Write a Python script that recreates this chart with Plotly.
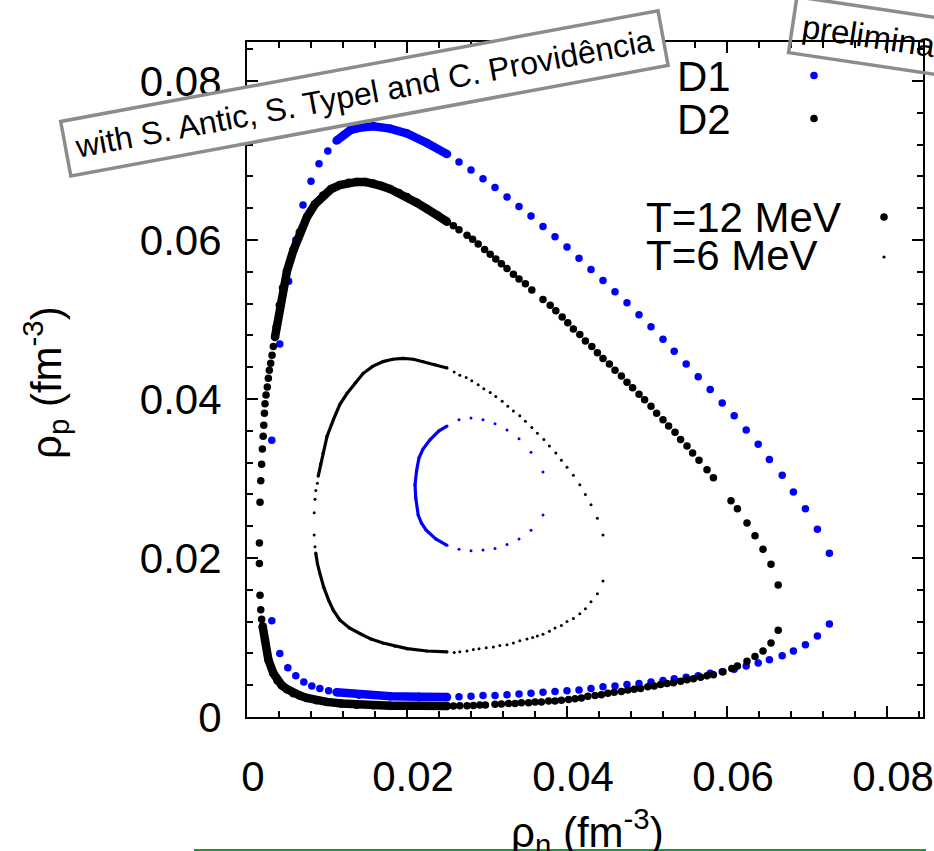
import plotly.graph_objects as go

# ---------------- data (rho_n, rho_p in fm^-3) ----------------
# D1, T = 12 MeV (blue, large)
d1_t12_upper_left_x = [0.0031, 0.0041, 0.0052, 0.0061, 0.0070, 0.0080, 0.0090, 0.0101]
d1_t12_upper_left_y = [0.0348, 0.0469, 0.0548, 0.0600, 0.0644, 0.0674, 0.0696, 0.0712]
d1_t12_upper_dense_x = [0.0112, 0.0121, 0.0129, 0.0140, 0.0158, 0.0179, 0.0200, 0.0225, 0.0250]
d1_t12_upper_dense_y = [0.0725, 0.0732, 0.0738, 0.0741, 0.0743, 0.0740, 0.0734, 0.0722, 0.0708]
d1_t12_right_x = [0.0265, 0.0280, 0.0295, 0.0310, 0.0325, 0.0340, 0.0355, 0.0370, 0.0385, 0.0400,
                  0.0415, 0.0430, 0.0445, 0.0460, 0.0475, 0.0490, 0.0505, 0.0520, 0.0534, 0.0549,
                  0.0564, 0.0579, 0.0594, 0.0609, 0.0624, 0.0639, 0.0653, 0.0669, 0.0683, 0.0698,
                  0.0713, 0.0728]
d1_t12_upper_right_y = [0.0698, 0.0688, 0.0677, 0.0666, 0.0654, 0.0642, 0.0630, 0.0617, 0.0604, 0.0591,
                        0.0577, 0.0563, 0.0549, 0.0535, 0.0521, 0.0506, 0.0491, 0.0475, 0.0460, 0.0444,
                        0.0428, 0.0412, 0.0395, 0.0379, 0.0361, 0.0343, 0.0324, 0.0304, 0.0283, 0.0262,
                        0.0236, 0.0206]
d1_t12_lower_left_x = [0.0031, 0.0041, 0.0051, 0.0061, 0.0071, 0.0081, 0.0091, 0.0102]
d1_t12_lower_left_y = [0.0121, 0.0080, 0.0062, 0.0052, 0.0044, 0.0039, 0.0036, 0.0033]
d1_t12_lower_dense_x = [0.0112, 0.0140, 0.0179, 0.0215, 0.0250]
d1_t12_lower_dense_y = [0.0031, 0.0028, 0.0026, 0.00255, 0.0025]
d1_t12_lower_right_y = [0.00255, 0.0026, 0.0027, 0.0027, 0.0028, 0.0029, 0.0030, 0.0031, 0.0032, 0.0033,
                        0.0034, 0.0036, 0.0038, 0.0039, 0.0041, 0.0042, 0.0044, 0.0046, 0.0048, 0.0050,
                        0.0052, 0.0055, 0.0057, 0.0060, 0.0064, 0.0068, 0.0072, 0.0077, 0.0083, 0.0091,
                        0.0102, 0.0117]

# D2, T = 12 MeV (black, large)
d2_t12_left_x = [0.00350, 0.00329, 0.00313, 0.00296, 0.00279, 0.00267, 0.00254, 0.00238, 0.00225, 0.00218,
                 0.00210, 0.00202, 0.00192, 0.00183, 0.00172, 0.00163, 0.00155, 0.00155, 0.00163, 0.00172,
                 0.00183, 0.00196]
d2_t12_left_y = [0.0478, 0.0466, 0.0455, 0.0445, 0.0436, 0.0426, 0.0415, 0.0405, 0.0394, 0.0382,
                 0.0367, 0.0353, 0.0337, 0.0318, 0.0297, 0.0270, 0.0219, 0.0193, 0.0153, 0.0135,
                 0.0123, 0.0114]
d2_t12_upper_dense_x = [0.0035, 0.0037, 0.0041, 0.0045, 0.0050, 0.0058, 0.0066, 0.0075, 0.0085, 0.0095,
                        0.0105, 0.0116, 0.0127, 0.0137, 0.0148, 0.0158, 0.0168, 0.0179, 0.0190, 0.0200,
                        0.0212, 0.0225, 0.0238, 0.0250]
d2_t12_upper_dense_y = [0.0478, 0.0491, 0.0518, 0.0540, 0.0561, 0.0587, 0.0610, 0.0629, 0.0645, 0.0656,
                        0.0664, 0.0669, 0.0672, 0.0673, 0.0673, 0.0671, 0.0668, 0.0664, 0.0659, 0.0654,
                        0.0647, 0.0639, 0.0631, 0.0623]
d2_t12_lower_dense_x = [0.00196, 0.00225, 0.00267, 0.00329, 0.0038, 0.00433, 0.0050, 0.00579, 0.0066, 0.00746,
                        0.0087, 0.00996, 0.0118, 0.0137, 0.0158, 0.0179, 0.0215, 0.0250]
d2_t12_lower_dense_y = [0.0114, 0.0097, 0.0072, 0.0055, 0.0046, 0.0040, 0.0035, 0.0030, 0.0027, 0.0024,
                        0.0021, 0.0019, 0.0017, 0.00155, 0.00148, 0.00142, 0.0014, 0.00138]
d2_t12_upper_right_x = [0.0258, 0.0265, 0.0275, 0.0282, 0.0289, 0.0297, 0.0304, 0.0311, 0.0318, 0.0325,
                        0.0333, 0.0340, 0.0348, 0.0356,
                        0.0370, 0.0379, 0.0386, 0.0394, 0.0401, 0.0408, 0.0416, 0.0423, 0.0431, 0.0438,
                        0.0445, 0.0453, 0.0460, 0.0468, 0.0475, 0.0482, 0.0490, 0.0497, 0.0505,
                        0.0512, 0.0520, 0.0527, 0.0535, 0.0542, 0.0550, 0.0557, 0.0565, 0.0575, 0.0583,
                        0.0605, 0.0613, 0.0625, 0.0635, 0.0645, 0.0655, 0.0664]
d2_t12_upper_right_y = [0.0618, 0.0613, 0.0606, 0.0601, 0.0595, 0.0588, 0.0582, 0.0576, 0.0570, 0.0564,
                        0.0557, 0.0551, 0.0545, 0.0537,
                        0.0525, 0.0518, 0.0511, 0.0503, 0.0496, 0.0488, 0.0481, 0.0473, 0.0466, 0.0458,
                        0.0451, 0.0444, 0.0436, 0.0429, 0.0421, 0.0414, 0.0406, 0.0399, 0.0391,
                        0.0382, 0.0374, 0.0366, 0.0358, 0.0349, 0.0341, 0.0332, 0.0323, 0.0311, 0.0301,
                        0.0272, 0.0262, 0.0244, 0.0228, 0.0211, 0.0192, 0.0166]
d2_t12_lower_right_x = [0.0258, 0.0266, 0.0275, 0.0283, 0.0291, 0.0298,
                        0.0310, 0.0318, 0.0327, 0.0335, 0.0343, 0.0352, 0.0360, 0.0368, 0.0377, 0.0385,
                        0.0393, 0.0402, 0.0410, 0.0418, 0.0426, 0.0435, 0.0443, 0.0451, 0.0459, 0.0468,
                        0.0476, 0.0484, 0.0492, 0.0501, 0.0509, 0.0517, 0.0525, 0.0533, 0.0542, 0.0550,
                        0.0558, 0.0567, 0.0575, 0.0583,
                        0.0595, 0.0606, 0.0613, 0.0625, 0.0635, 0.0645, 0.0655, 0.0664]
d2_t12_lower_right_y = [0.00138, 0.0014, 0.0014, 0.00145, 0.0015, 0.0015,
                        0.0016, 0.00165, 0.0017, 0.0017, 0.0018, 0.0018, 0.0019, 0.0019, 0.0020, 0.0020,
                        0.0021, 0.0022, 0.0023, 0.0024, 0.0026, 0.0027, 0.0028, 0.0030, 0.0031, 0.0032,
                        0.0034, 0.0035, 0.0036, 0.0038, 0.0039, 0.0041, 0.0042, 0.0043, 0.0045, 0.0047,
                        0.0048, 0.0050, 0.0052, 0.0053,
                        0.0057, 0.0061, 0.0064, 0.0070, 0.0076, 0.0083, 0.0093, 0.0109]

# D1, T = 6 MeV (blue, small)
d1_t6_dense_x = [0.0250, 0.0240, 0.0229, 0.0220, 0.0215, 0.0212, 0.0210, 0.0211, 0.0214, 0.0218, 0.0224, 0.0236, 0.0250]
d1_t6_dense_y = [0.0366, 0.0360, 0.0349, 0.0337, 0.0326, 0.0310, 0.0292, 0.0275, 0.0254, 0.0244, 0.0235, 0.0224, 0.0216]
d1_t6_upper_x = [0.0265, 0.0280, 0.0295, 0.0310, 0.0325, 0.0340, 0.0355, 0.0370]
d1_t6_upper_y = [0.0374, 0.0376, 0.0374, 0.0369, 0.0361, 0.0350, 0.0333, 0.0308]
d1_t6_lower_x = [0.0370, 0.0355, 0.0340, 0.0325, 0.0310, 0.0295, 0.0280, 0.0265]
d1_t6_lower_y = [0.0254, 0.0235, 0.0224, 0.0217, 0.0212, 0.0210, 0.0209, 0.0211]

# D2, T = 6 MeV (black, small)
d2_t6_upper_dense_x = [0.0089, 0.0092, 0.0095, 0.0100, 0.0108, 0.0116, 0.0125, 0.0135, 0.0145, 0.0157,
                       0.0170, 0.0182, 0.0195, 0.0208, 0.0220, 0.0235, 0.0250]
d2_t6_upper_dense_y = [0.0303, 0.0318, 0.0332, 0.0353, 0.0374, 0.0393, 0.0407, 0.0420, 0.0432, 0.0441,
                       0.0447, 0.0450, 0.0451, 0.0450, 0.0447, 0.0443, 0.0439]
d2_t6_left_x = [0.0088, 0.0086, 0.0085, 0.0084, 0.0084, 0.0085]
d2_t6_left_y = [0.0294, 0.0285, 0.0274, 0.0257, 0.0229, 0.0214]
d2_t6_lower_dense_x = [0.0086, 0.0088, 0.0091, 0.0096, 0.0102, 0.0108, 0.0116, 0.0128, 0.0141, 0.0155,
                       0.0170, 0.0185, 0.0200, 0.0225, 0.0250]
d2_t6_lower_dense_y = [0.0206, 0.0193, 0.0181, 0.0163, 0.0147, 0.0134, 0.0122, 0.0112, 0.0105, 0.0098,
                       0.0093, 0.0089, 0.0086, 0.0083, 0.0082]
d2_t6_upper_x = [0.0259, 0.0266, 0.0274, 0.0281, 0.0289, 0.0296, 0.0304, 0.0311, 0.0319, 0.0326,
                 0.0333, 0.0341, 0.0348, 0.0356, 0.0363, 0.0371, 0.0378, 0.0386, 0.0393, 0.0400,
                 0.0408, 0.0416, 0.0423, 0.0430, 0.0438, 0.0445]
d2_t6_upper_y = [0.0434, 0.0430, 0.0427, 0.0423, 0.0418, 0.0413, 0.0408, 0.0403, 0.0397, 0.0391,
                 0.0385, 0.0379, 0.0372, 0.0364, 0.0357, 0.0349, 0.0341, 0.0332, 0.0323, 0.0314,
                 0.0304, 0.0292, 0.0280, 0.0267, 0.0250, 0.0229]
d2_t6_lower_x = [0.0259, 0.0266, 0.0275, 0.0283, 0.0290, 0.0299, 0.0308, 0.0316, 0.0325, 0.0333,
                 0.0341, 0.0350, 0.0357, 0.0363, 0.0370, 0.0378, 0.0385, 0.0393, 0.0400, 0.0408,
                 0.0416, 0.0423, 0.0430, 0.0438, 0.0445]
d2_t6_lower_y = [0.0081, 0.0082, 0.0083, 0.0085, 0.0086, 0.0087, 0.0088, 0.0090, 0.0091, 0.0093,
                 0.0096, 0.0098, 0.0100, 0.0102, 0.0104, 0.0108, 0.0112, 0.0115, 0.0120, 0.0124,
                 0.0130, 0.0136, 0.0145, 0.0155, 0.0171]

x_tick_values = [0, 0.02, 0.04, 0.06, 0.08]
y_tick_values = [0, 0.02, 0.04, 0.06, 0.08]
tick_labels = ["0", "0.02", "0.04", "0.06", "0.08"]

# ---------------- styling ----------------
BLUE = "#0000ff"
BLACK = "#000000"
BIG = 7.5
SMALL = 3.0
FONT = "Liberation Sans, Arial, Helvetica, sans-serif"

fig = go.Figure()


def dots(x, y, color, size):
    fig.add_trace(go.Scatter(x=x, y=y, mode="markers",
                             marker=dict(color=color, size=size, line=dict(width=0)),
                             hoverinfo="skip", showlegend=False))


def dense(x, y, color, width):
    fig.add_trace(go.Scatter(x=x, y=y, mode="lines+markers",
                             line=dict(color=color, width=width),
                             marker=dict(color=color, size=width, line=dict(width=0)),
                             hoverinfo="skip", showlegend=False))


# D1 T=12
dots(d1_t12_upper_left_x, d1_t12_upper_left_y, BLUE, BIG)
dense(d1_t12_upper_dense_x, d1_t12_upper_dense_y, BLUE, 8.5)
dots(d1_t12_right_x, d1_t12_upper_right_y, BLUE, BIG)
dots(d1_t12_lower_left_x, d1_t12_lower_left_y, BLUE, BIG)
dense(d1_t12_lower_dense_x, d1_t12_lower_dense_y, BLUE, 8.5)
dots(d1_t12_right_x, d1_t12_lower_right_y, BLUE, BIG)
# D2 T=12
dots(d2_t12_left_x, d2_t12_left_y, BLACK, BIG)
dense(d2_t12_upper_dense_x, d2_t12_upper_dense_y, BLACK, 8.5)
dense(d2_t12_lower_dense_x, d2_t12_lower_dense_y, BLACK, 8.5)
dots(d2_t12_upper_right_x, d2_t12_upper_right_y, BLACK, BIG)
dots(d2_t12_lower_right_x, d2_t12_lower_right_y, BLACK, BIG)
# D1 T=6
dense(d1_t6_dense_x, d1_t6_dense_y, BLUE, 3.2)
dots(d1_t6_upper_x, d1_t6_upper_y, BLUE, SMALL)
dots(d1_t6_lower_x, d1_t6_lower_y, BLUE, SMALL)
# D2 T=6
dense(d2_t6_upper_dense_x, d2_t6_upper_dense_y, BLACK, 3.2)
dots(d2_t6_left_x, d2_t6_left_y, BLACK, SMALL)
dense(d2_t6_lower_dense_x, d2_t6_lower_dense_y, BLACK, 3.2)
dots(d2_t6_upper_x, d2_t6_upper_y, BLACK, SMALL)
dots(d2_t6_lower_x, d2_t6_lower_y, BLACK, SMALL)

axis_common = dict(
    showline=True, linecolor="black", linewidth=2, mirror="allticks",
    ticks="inside", ticklen=11, tickwidth=1.5, tickcolor="black",
    showgrid=False, zeroline=False, automargin=False,
    tickfont=dict(family=FONT, size=42, color="black"),
    minor=dict(ticks="inside", ticklen=6, tickwidth=1.5, tickcolor="black", dtick=0.004, showgrid=False),
)

fig.update_xaxes(range=[0, 0.0845], tickmode="array", tickvals=x_tick_values, ticktext=tick_labels,
                 ticklabelstandoff=22, ticklabelshift=6, **axis_common)
fig.update_yaxes(range=[0, 0.0849], tickmode="array", tickvals=y_tick_values, ticktext=tick_labels,
                 ticklabelstandoff=15, **axis_common)

W, H = 934, 851
L, R, T, B = 247, 11, 42, 134
PW, PH = W - L - R, H - T - B


def px(xp):
    return (xp - L) / PW


def py(yp):
    return (H - B - yp) / PH


annotations = [
    # axis titles
    dict(text="ρ<sub>n</sub> (fm<sup>-3</sup>)", x=px(587), y=py(832), xref="paper", yref="paper",
         xanchor="center", yanchor="middle", showarrow=False,
         font=dict(family=FONT, size=42, color="black")),
    dict(text="ρ<sub>p</sub> (fm<sup>-3</sup>)", x=px(45), y=py(382), xref="paper", yref="paper",
         xanchor="center", yanchor="middle", showarrow=False, textangle=-90,
         font=dict(family=FONT, size=42, color="black")),
    # key text
    dict(text="D1", x=px(675), y=py(76), xref="paper", yref="paper", xanchor="left", yanchor="middle",
         showarrow=False, font=dict(family=FONT, size=42, color="black")),
    dict(text="D2", x=px(675), y=py(119), xref="paper", yref="paper", xanchor="left", yanchor="middle",
         showarrow=False, font=dict(family=FONT, size=42, color="black")),
    dict(text="T=12 MeV", x=px(644), y=py(217), xref="paper", yref="paper", xanchor="left", yanchor="middle",
         showarrow=False, font=dict(family=FONT, size=42, color="black")),
    dict(text="T=6 MeV", x=px(644), y=py(255), xref="paper", yref="paper", xanchor="left", yanchor="middle",
         showarrow=False, font=dict(family=FONT, size=42, color="black")),
    # stamps
    dict(text="with S. Antic, S. Typel and C. Providência", x=px(364), y=py(94), xref="paper", yref="paper",
         xanchor="center", yanchor="middle", showarrow=False, textangle=-10.5,
         font=dict(family=FONT, size=32, color="black"),
         bordercolor="#8c8c8c", borderwidth=3.5, borderpad=8, bgcolor="white"),
    dict(text="preliminary", x=px(882), y=py(38), xref="paper", yref="paper",
         xanchor="center", yanchor="middle", showarrow=False, textangle=8.5,
         font=dict(family=FONT, size=33, color="black"),
         bordercolor="#8c8c8c", borderwidth=3.5, borderpad=8, bgcolor="rgba(0,0,0,0)"),
]


def key_dot(xp, yp, r, color):
    return dict(type="circle", xref="paper", yref="paper", xsizemode="pixel", ysizemode="pixel",
                xanchor=px(xp), yanchor=py(yp), x0=-r, x1=r, y0=-r, y1=r,
                fillcolor=color, line=dict(width=0))


shapes = [
    key_dot(814, 75.5, 3.8, BLUE),
    key_dot(814, 118.5, 3.8, BLACK),
    key_dot(884, 217, 3.8, BLACK),
    key_dot(884, 257, 1.6, BLACK),
    dict(type="line", xref="paper", yref="paper", x0=px(194), x1=px(926), y0=py(850), y1=py(850),
         line=dict(color="#1a9a33", width=2)),
]

fig.update_layout(
    width=W, height=H, autosize=False,
    margin=dict(l=L, r=R, t=T, b=B, pad=0, autoexpand=False),
    paper_bgcolor="white", plot_bgcolor="white",
    showlegend=False,
    annotations=annotations, shapes=shapes,
    font=dict(family=FONT, color="black"),
)

fig.write_html("out.html")
